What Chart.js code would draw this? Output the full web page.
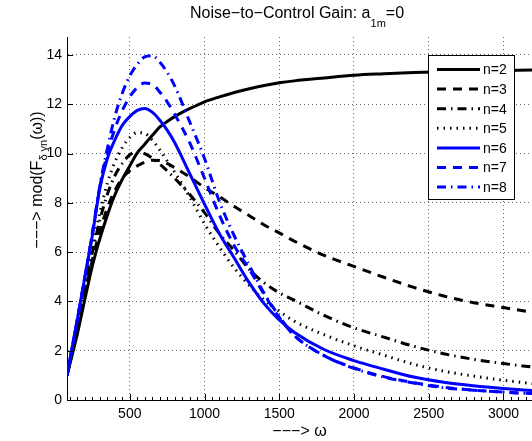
<!DOCTYPE html>
<html><head><meta charset="utf-8">
<script src="https://cdn.jsdelivr.net/npm/chart.js@4"></script>
<style>html,body{margin:0;padding:0;background:#fff;overflow:hidden}</style>
</head><body>
<canvas id="c" width="532" height="441"></canvas>
<script>
const omega = [80,150,200,250,300,350,400,450,500,550,600,650,700,750,800,900,1000,1100,1200,1300,1400,1500,1600,1800,2000,2200,2400,2600,2800,3000,3200];
const n2 = [1.0,2.7,4.1,5.45,6.55,7.5,8.32,8.96,9.5,10.03,10.38,10.73,11.07,11.3,11.5,11.82,12.1,12.3,12.48,12.63,12.76,12.87,12.95,13.07,13.18,13.24,13.29,13.32,13.35,13.37,13.39];
const n3 = [1.0,2.85,4.3,5.7,6.85,7.8,8.5,9.0,9.3,9.5,9.65,9.73,9.72,9.6,9.43,9.05,8.62,8.25,7.85,7.48,7.1,6.78,6.45,5.87,5.42,4.98,4.57,4.22,3.95,3.75,3.55];
const n4 = [1.0,2.95,4.5,6.0,7.3,8.35,9.1,9.6,9.95,10.07,10.0,9.82,9.58,9.3,9.0,8.35,7.6,6.75,6.05,5.3,4.75,4.35,4.05,3.43,2.93,2.55,2.18,1.88,1.65,1.48,1.33];
const n5 = [1.0,3.0,4.6,6.2,7.6,8.8,9.65,10.25,10.65,10.85,10.82,10.55,10.15,9.7,9.25,8.25,7.15,6.2,5.35,4.65,4.05,3.6,3.2,2.65,2.2,1.82,1.45,1.17,0.97,0.8,0.66];
const n6 = [1.0,3.3,5.0,6.7,8.6,9.8,10.55,11.15,11.5,11.75,11.83,11.68,11.36,10.95,10.45,9.2,7.95,6.75,5.75,4.75,3.9,3.25,2.75,2.05,1.6,1.25,0.93,0.72,0.58,0.47,0.38];
const n7 = [1.0,3.3,5.0,6.75,8.65,10.0,11.0,11.75,12.3,12.68,12.86,12.82,12.5,12.1,11.6,10.45,9.0,7.5,6.25,5.3,4.28,3.35,2.62,1.8,1.3,0.95,0.7,0.52,0.4,0.32,0.26];
const n8 = [1.0,3.3,5.0,6.8,8.7,10.2,11.5,12.45,13.15,13.62,13.92,13.97,13.72,13.3,12.75,11.3,9.8,8.05,6.65,5.45,4.32,3.4,2.62,1.8,1.28,0.93,0.69,0.5,0.4,0.32,0.26];
const seriesLabels = ['n=2','n=3','n=4','n=5','n=6','n=7','n=8'];
const xTickValues = [500,1000,1500,2000,2500,3000];
const yTickValues = [0,2,4,6,8,10,12,14];
const xRange = [80, 3191];
const yRange = [0, 14.73];

const FONT = '"Liberation Sans", Arial, Helvetica, sans-serif';
const series = [n2,n3,n4,n5,n6,n7,n8];
const colors = ['#000','#000','#000','#000','#0000ff','#0000ff','#0000ff'];
const dashes = [[],[9,7],[9,5,1.5,5],[1.5,5],[],[9,7],[9,5,1.5,5]];

function drawRich(ctx, parts, cx, baseY) {
  let total = 0;
  parts.forEach(p => { ctx.font = p.s + 'px ' + FONT; p.w = ctx.measureText(p.t).width; total += p.w; });
  let x = cx - total / 2;
  ctx.textBaseline = 'alphabetic';
  ctx.textAlign = 'left';
  parts.forEach(p => { ctx.font = p.s + 'px ' + FONT; ctx.fillText(p.t, x, baseY + (p.dy || 0)); x += p.w; });
}

const decor = {
  id: 'decor',
  afterDatasetsDraw(chart) {
    const ctx = chart.ctx;
    ctx.save();
    const bx = 428.5, by = 55.5, bw = 86, bh = 144;
    ctx.fillStyle = '#fff';
    ctx.fillRect(bx, by, bw, bh);
    ctx.strokeStyle = '#000'; ctx.lineWidth = 1; ctx.setLineDash([]);
    ctx.strokeRect(bx, by, bw, bh);
    chart.data.datasets.forEach((ds, i) => {
      const y = 69.5 + i * 19.6;
      ctx.beginPath();
      ctx.strokeStyle = ds.borderColor; ctx.lineWidth = ds.borderWidth;
      ctx.setLineDash(ds.borderDash || []);
      ctx.lineCap = 'butt';
      ctx.moveTo(437, y); ctx.lineTo(480, y); ctx.stroke();
      ctx.setLineDash([]);
      ctx.fillStyle = '#000';
      ctx.font = '14px ' + FONT;
      ctx.textBaseline = 'middle'; ctx.textAlign = 'left';
      ctx.fillText(ds.label, 483, y + 1);
    });
    ctx.restore();
  },
  afterDraw(chart) {
    const ctx = chart.ctx, a = chart.chartArea, xs = chart.scales.x, ys = chart.scales.y;
    ctx.save();
    ctx.strokeStyle = '#000'; ctx.lineWidth = 1; ctx.setLineDash([]);
    ctx.beginPath();
    xTickValues.forEach(v => { const p = Math.round(xs.getPixelForValue(v)) + 0.5; ctx.moveTo(p, a.bottom); ctx.lineTo(p, a.bottom - 6); });
    for (let v = 100; v <= xRange[1]; v += 50) { const p = Math.round(xs.getPixelForValue(v)) + 0.5; ctx.moveTo(p, a.bottom); ctx.lineTo(p, a.bottom - 3); }
    yTickValues.forEach(v => { const p = Math.round(ys.getPixelForValue(v)) + 0.5; ctx.moveTo(a.left, p); ctx.lineTo(a.left + 6, p); });
    ctx.stroke();
    ctx.fillStyle = '#000';
    drawRich(ctx, [{t:'Noise\u2212to\u2212Control Gain: a', s:16},{t:'1m', s:11, dy:9},{t:'=0', s:16}], 297, 17.5);
    drawRich(ctx, [{t:'\u2212\u2212\u2212> \u03c9', s:16}], (a.left + a.right) / 2, 435.5);
    ctx.translate(42, 180);
    ctx.rotate(-Math.PI / 2);
    drawRich(ctx, [{t:'\u2212\u2212\u2212> mod(F', s:16},{t:'\u03b4 yn', s:11, dy:5},{t:'(\u03c9))', s:16}], 0, 0);
    ctx.restore();
  }
};

new Chart(document.getElementById('c').getContext('2d'), {
  type: 'line',
  data: {
    datasets: series.map((s, i) => ({
      label: seriesLabels[i],
      data: omega.map((w, j) => ({x: w, y: s[j]})),
      borderColor: colors[i],
      borderWidth: 3,
      borderDash: dashes[i],
      borderCapStyle: 'butt',
      pointRadius: 0,
      fill: false,
      cubicInterpolationMode: 'monotone',
      order: 10 - i
    }))
  },
  options: {
    responsive: false,
    animation: false,
    devicePixelRatio: 1,
    layout: {padding: {top: 37, right: 0, left: 0, bottom: 0}},
    plugins: {legend: {display: false}, title: {display: false}, tooltip: {enabled: false}},
    scales: {
      x: {
        type: 'linear', min: xRange[0], max: xRange[1],
        afterBuildTicks: s => { s.ticks = xTickValues.map(v => ({value: v})); },
        afterFit: s => { s.height = 41; },
        grid: {color: 'rgba(0,0,0,0.6)', lineWidth: 1, drawTicks: false},
        border: {display: true, color: '#000', width: 1, dash: [1, 3]},
        ticks: {color: '#000', font: {family: FONT, size: 14}, padding: 6, maxRotation: 0, autoSkip: false, callback: v => String(v)}
      },
      y: {
        type: 'linear', min: yRange[0], max: yRange[1],
        afterBuildTicks: s => { s.ticks = yTickValues.map(v => ({value: v})); },
        afterFit: s => { s.width = 67; },
        grid: {color: 'rgba(0,0,0,0.6)', lineWidth: 1, drawTicks: false},
        border: {display: true, color: '#000', width: 1, dash: [1, 3]},
        ticks: {color: '#000', font: {family: FONT, size: 14}, padding: 5, autoSkip: false, callback: v => String(v)}
      }
    }
  },
  plugins: [decor]
});
</script>
</body></html>
